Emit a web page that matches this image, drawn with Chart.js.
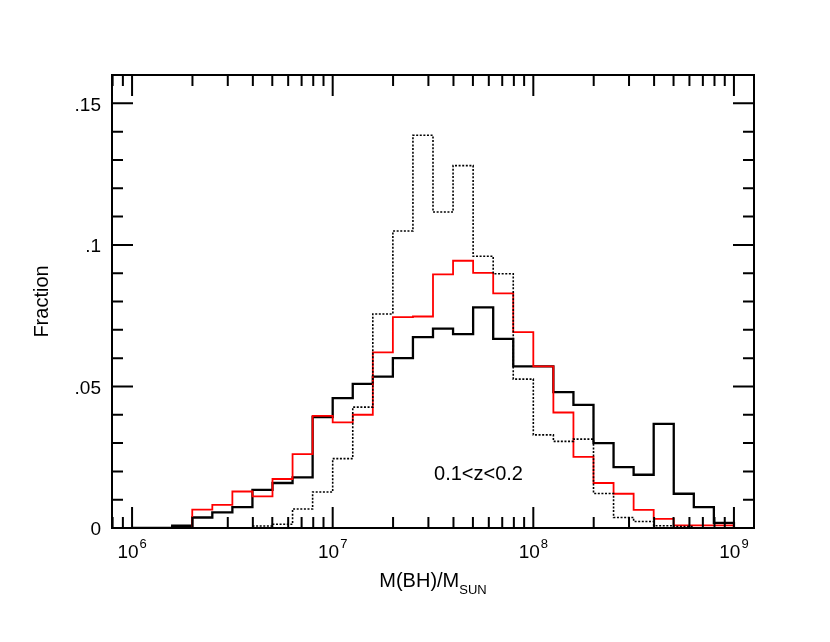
<!DOCTYPE html>
<html>
<head>
<meta charset="utf-8">
<script src="https://cdn.jsdelivr.net/npm/chart.js@4.4.1/dist/chart.umd.min.js"></script>
<style>
  html, body { margin: 0; padding: 0; background: #fff; }
  #wrap { width: 830px; height: 642px; }
</style>
</head>
<body>
<div id="wrap"><canvas id="massChart" width="830" height="642"></canvas></div>
<script>
// bin edges in log10(M/Msun), 0.1 dex wide
const binEdges = [6.0, 6.1, 6.2, 6.3, 6.4, 6.5, 6.6, 6.7, 6.8, 6.9,
                  7.0, 7.1, 7.2, 7.3, 7.4, 7.5, 7.6, 7.7, 7.8, 7.9,
                  8.0, 8.1, 8.2, 8.3, 8.4, 8.5, 8.6, 8.7, 8.8, 8.9, 9.0];

// fraction per bin (black solid)
const fracBlack = [0, 0, 0.0008, 0.0037, 0.0055, 0.0074, 0.0135, 0.0159, 0.0179, 0.0392,
                   0.0459, 0.0509, 0.0535, 0.0600, 0.0674, 0.0704, 0.0685, 0.0779, 0.0668, 0.0571,
                   0.0571, 0.0480, 0.0435, 0.0300, 0.0215, 0.0188, 0.0368, 0.0121, 0.0074, 0.0018];
// red
const fracRed = [0, 0, 0, 0.0065, 0.0082, 0.0129, 0.0112, 0.0173, 0.0261, 0.0396,
                 0.0373, 0.0400, 0.0620, 0.0745, 0.0747, 0.0896, 0.0944, 0.0901, 0.0829, 0.0692,
                 0.0571, 0.0408, 0.0251, 0.0159, 0.0121, 0.0064, 0.0032, 0.0009, 0.0009, 0.0009];
// black dotted
const fracDotted = [0, 0, 0, 0, 0, 0, 0.0007, 0.0013, 0.0067, 0.0127,
                    0.0245, 0.0427, 0.0756, 0.1049, 0.1387, 0.1116, 0.1280, 0.0960, 0.0898, 0.0526,
                    0.0329, 0.0306, 0.0314, 0.0122, 0.0037, 0.0023, 0.0008, 0.0005, 0, 0];

const xTickExps = [6, 7, 8, 9];
const yTickVals = [0, 0.05, 0.1, 0.15];
const yTickLabels = ['0', '.05', '.1', '.15'];
const zLabel = '0.1<z<0.2';

function steps(vals) {
    // one point per left edge, last edge closes down to 0
    return binEdges.map((e, i) => ({ x: Math.pow(10, e), y: i < vals.length ? vals[i] : 0 }));
}

const FONT = '"Liberation Sans", Arial, sans-serif';

const frameAndTicks = {
    id: 'frameAndTicks',
    afterDatasetsDraw(chart) {
        const { ctx, chartArea: a, scales: { x, y } } = chart;
        ctx.save();
        ctx.strokeStyle = '#000';
        ctx.lineWidth = 2;
        ctx.strokeRect(a.left, a.top, a.right - a.left, a.bottom - a.top);

        ctx.beginPath();
        // log ticks top and bottom, pointing in
        for (let d = 5; d <= 9; d++) {
            for (let m = 1; m <= 9; m++) {
                const v = m * Math.pow(10, d);
                if (v < x.min || v > x.max) continue;
                const px = x.getPixelForValue(v);
                const len = m === 1 ? 21 : 11;
                ctx.moveTo(px, a.bottom); ctx.lineTo(px, a.bottom - len);
                ctx.moveTo(px, a.top); ctx.lineTo(px, a.top + len);
            }
        }
        // y ticks every .01, major every .05
        for (let k = 1; k <= 16; k++) {
            const py = y.getPixelForValue(k / 100);
            const len = k % 5 === 0 ? 21 : 11;
            ctx.moveTo(a.left, py); ctx.lineTo(a.left + len, py);
            ctx.moveTo(a.right, py); ctx.lineTo(a.right - len, py);
        }
        ctx.stroke();

        ctx.fillStyle = '#000';
        // y tick labels
        ctx.font = '19px ' + FONT;
        ctx.textAlign = 'right';
        ctx.textBaseline = 'middle';
        yTickVals.forEach((v, i) => {
            ctx.fillText(yTickLabels[i], a.left - 11, y.getPixelForValue(v) + 2);
        });

        // x tick labels 10^n
        ctx.textAlign = 'left';
        ctx.textBaseline = 'alphabetic';
        xTickExps.forEach(n => {
            const px = x.getPixelForValue(Math.pow(10, n));
            ctx.font = '19px ' + FONT;
            const w1 = ctx.measureText('10').width;
            ctx.font = '13px ' + FONT;
            const w2 = ctx.measureText(String(n)).width;
            const x0 = px - (w1 + w2 + 1) / 2;
            ctx.font = '19px ' + FONT;
            ctx.fillText('10', x0, 558);
            ctx.font = '13px ' + FONT;
            ctx.fillText(String(n), x0 + w1 + 1, 548);
        });

        // x title with subscript
        ctx.font = '20px ' + FONT;
        const t1 = 'M(BH)/M';
        const tw1 = ctx.measureText(t1).width;
        ctx.font = '13px ' + FONT;
        const tw2 = ctx.measureText('SUN').width;
        const cx = (a.left + a.right) / 2;
        const tx = cx - (tw1 + tw2) / 2;
        ctx.font = '20px ' + FONT;
        ctx.fillText(t1, tx, 587);
        ctx.font = '13px ' + FONT;
        ctx.fillText('SUN', tx + tw1, 594);

        // y title
        ctx.save();
        ctx.translate(48, (a.top + a.bottom) / 2);
        ctx.rotate(-Math.PI / 2);
        ctx.font = '20px ' + FONT;
        ctx.textAlign = 'center';
        ctx.fillText('Fraction', 0, 0);
        ctx.restore();

        // redshift label
        ctx.font = '20px ' + FONT;
        ctx.textAlign = 'left';
        ctx.fillText(zLabel, x.getPixelForValue(Math.pow(10, 7.505)), y.getPixelForValue(0.017));
        ctx.restore();
    }
};

new Chart(document.getElementById('massChart').getContext('2d'), {
    type: 'line',
    data: {
        datasets: [
            {
                label: 'dotted',
                data: steps(fracDotted),
                borderColor: '#000',
                borderWidth: 1.6,
                borderDash: [2, 1.6],
                stepped: 'before',
                pointRadius: 0,
                fill: false,
                order: 0
            },
            {
                label: 'red',
                data: steps(fracRed),
                borderColor: '#ff0000',
                borderWidth: 1.8,
                stepped: 'before',
                pointRadius: 0,
                fill: false,
                order: 1
            },
            {
                label: 'black',
                data: steps(fracBlack),
                borderColor: '#000',
                borderWidth: 2.3,
                stepped: 'before',
                pointRadius: 0,
                fill: false,
                order: 2
            }
        ]
    },
    options: {
        responsive: false,
        animation: false,
        devicePixelRatio: 1,
        layout: { padding: { left: 112, right: 76, top: 75, bottom: 114 } },
        plugins: { legend: { display: false }, tooltip: { enabled: false } },
        scales: {
            x: {
                type: 'logarithmic',
                min: Math.pow(10, 5.9),
                max: Math.pow(10, 9.1),
                grid: { display: false, drawTicks: false },
                border: { display: false },
                ticks: { display: false }
            },
            y: {
                type: 'linear',
                min: 0,
                max: 0.16,
                grid: { display: false, drawTicks: false },
                border: { display: false },
                ticks: { display: false }
            }
        }
    },
    plugins: [frameAndTicks]
});
</script>
</body>
</html>
